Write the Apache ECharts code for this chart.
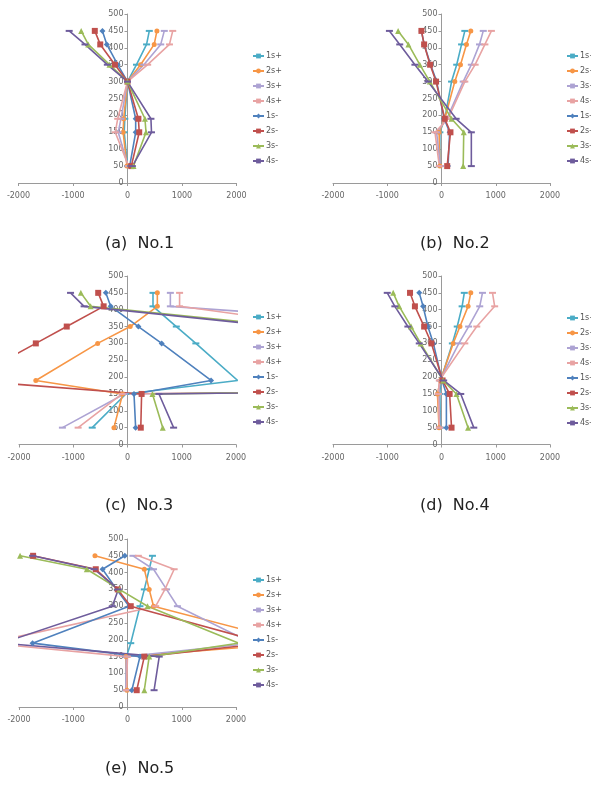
<!DOCTYPE html>
<html>
<head>
<meta charset="utf-8">
<script src="https://cdn.jsdelivr.net/npm/echarts@6/dist/echarts.min.js"></script>
<style>
html,body{margin:0;padding:0;background:#fff;}
#c{width:591px;height:785px;}
</style>
</head>
<body>
<div id="c"></div>
<script>
// Heights (y values) shared by every series
const heights = [450, 410, 350, 300, 190, 150, 50];
const seriesNames = ['1s+', '2s+', '3s+', '4s+', '1s-', '2s-', '3s-', '4s-'];
const xTicks = [-2000, -1000, 0, 1000, 2000];
const yTicks = [0, 50, 100, 150, 200, 250, 300, 350, 400, 450, 500];
const panelLabels = ['(a)  No.1', '(b)  No.2', '(c)  No.3', '(d)  No.4', '(e)  No.5'];

// No.1
const no1_1sp = [400, 350, 165, 0, -50, -60, 0];
const no1_2sp = [540, 490, 240, 0, -70, -80, -10];
const no1_3sp = [675, 610, 300, 0, -120, -170, 10];
const no1_4sp = [830, 770, 370, 0, -180, -225, 20];
const no1_1sm = [-460, -380, -180, 0, 150, 150, 40];
const no1_2sm = [-600, -500, -230, 0, 200, 215, 70];
const no1_3sm = [-850, -720, -330, 0, 320, 340, 110];
const no1_4sm = [-1070, -780, -370, 0, 430, 440, 90];

// No.2
const no2_1sp = [430, 370, 280, 185, 60, -30, -30];
const no2_2sp = [540, 460, 350, 245, 60, -45, -30];
const no2_3sp = [770, 700, 550, 400, 100, -90, -20];
const no2_4sp = [920, 800, 620, 430, 120, -120, -40];
const no2_1sm = [-370, -320, -200, -90, 50, 150, 120];
const no2_2sm = [-370, -320, -210, -100, 60, 165, 105];
const no2_3sm = [-800, -610, -400, -215, 185, 410, 400];
const no2_4sm = [-960, -770, -490, -250, 270, 550, 550];

// No.3
const no3_1sp = [470, 470, 900, 1260, 2030, -30, -650];
const no3_2sp = [550, 550, 50, -550, -1690, -90, -250];
const no3_3sp = [790, 790, 6000, 11880, 20000, -60, -1200];
const no3_4sp = [960, 960, 3700, 6160, 20000, -100, -910];
const no3_1sm = [-400, -310, 200, 630, 1540, 120, 150];
const no3_2sm = [-540, -440, -1120, -1690, -2940, 260, 245];
const no3_3sm = [-860, -680, 2975, 6000, 20000, 460, 650];
const no3_4sm = [-1050, -800, 2775, 5500, 20000, 580, 850];

// No.4
const no4_1sp = [420, 380, 290, 200, -15, -30, -20];
const no4_2sp = [540, 490, 340, 215, -20, -75, -45];
const no4_3sp = [755, 705, 500, 320, -30, -50, -30];
const no4_4sp = [940, 980, 650, 430, -40, -60, -40];
const no4_1sm = [-410, -340, -250, -150, 10, 90, 90];
const no4_2sm = [-580, -490, -320, -185, 20, 150, 185];
const no4_3sm = [-890, -780, -560, -385, 30, 275, 490];
const no4_4sm = [-1000, -860, -620, -410, 40, 355, 595];

// No.5
const no5_1sp = [460, 400, 310, 230, 60, -20, -30];
const no5_2sp = [-600, 310, 400, 480, 3090, -30, -10];
const no5_3sp = [100, 480, 720, 920, 2300, -20, -30];
const no5_4sp = [200, 860, 690, 520, -2560, 0, -20];
const no5_1sm = [-50, -460, -200, 30, -1750, 230, 80];
const no5_2sm = [-1740, -585, -180, 60, 2540, 310, 170];
const no5_3sm = [-1980, -750, -150, 370, 2050, 400, 310];
const no5_4sm = [-1750, -615, -170, -280, -2315, 585, 490];

const panels = [
  [no1_1sp, no1_2sp, no1_3sp, no1_4sp, no1_1sm, no1_2sm, no1_3sm, no1_4sm],
  [no2_1sp, no2_2sp, no2_3sp, no2_4sp, no2_1sm, no2_2sm, no2_3sm, no2_4sm],
  [no3_1sp, no3_2sp, no3_3sp, no3_4sp, no3_1sm, no3_2sm, no3_3sm, no3_4sm],
  [no4_1sp, no4_2sp, no4_3sp, no4_4sp, no4_1sm, no4_2sm, no4_3sm, no4_4sm],
  [no5_1sp, no5_2sp, no5_3sp, no5_4sp, no5_1sm, no5_2sm, no5_3sm, no5_4sm]
];

const colors = ['#4BACC6', '#F79646', '#ADA3D3', '#E8A3A3', '#4F81BD', '#C0504D', '#9BBB59', '#6E5C9C'];
const symbols = ['rect', 'circle', 'rect', 'rect', 'diamond', 'rect', 'triangle', 'rect'];
const symbolSizes = [[7, 2], 5, [7, 2], [7, 2], 6, 6, 6, [7, 2]];

// layout of the five plot areas
const grids = [
  {left: 18.5, top: 14, width: 218, height: 169},
  {left: 333, top: 14, width: 217, height: 169},
  {left: 19, top: 276, width: 217, height: 168.5},
  {left: 333, top: 276, width: 217, height: 168.5},
  {left: 19, top: 539, width: 217, height: 168}
];
const legendPos = [
  {left: 252, top: 52},
  {left: 566, top: 52},
  {left: 252, top: 313},
  {left: 566, top: 314},
  {left: 252, top: 576}
];
const labelPos = [
  {x: 105, y: 246}, {x: 420, y: 246},
  {x: 105, y: 508}, {x: 420, y: 508},
  {x: 105, y: 771}
];

const axisColor = '#9a9a9a';
const labelColor = '#666';
const plain = v => String(v);

const option = {
  animation: false,
  backgroundColor: '#fff',
  grid: grids,
  xAxis: grids.map((g, i) => ({
    type: 'value', gridIndex: i, min: xTicks[0], max: xTicks[xTicks.length - 1], interval: 1000,
    splitLine: {show: false},
    axisLine: {show: true, onZero: false, lineStyle: {color: axisColor, width: 1}},
    axisTick: {show: true, length: 3, lineStyle: {color: axisColor}},
    axisLabel: {fontSize: 8, color: labelColor, margin: 9, fontFamily: 'DejaVu Sans', formatter: plain}
  })),
  yAxis: grids.map((g, i) => ({
    type: 'value', gridIndex: i, min: yTicks[0], max: yTicks[yTicks.length - 1], interval: 50,
    position: 'left', offset: -g.width / 2,
    splitLine: {show: false},
    axisLine: {show: true, onZero: false, lineStyle: {color: axisColor, width: 1}},
    axisTick: {show: true, length: 3, lineStyle: {color: axisColor}},
    axisLabel: {fontSize: 8, color: labelColor, margin: 4, fontFamily: 'DejaVu Sans', formatter: plain}
  })),
  legend: legendPos.map(p => ({
    data: seriesNames, orient: 'vertical', left: p.left, top: p.top,
    itemWidth: 11, itemHeight: 6, itemGap: 7, padding: 0,
    textStyle: {fontSize: 8, color: '#555', padding: [0, 0, 0, -3], fontFamily: 'DejaVu Sans'}
  })),
  graphic: labelPos.map((p, i) => ({
    type: 'text', left: p.x, top: p.y - 10,
    style: {text: panelLabels[i], font: '16px "DejaVu Sans"', fill: '#222'}
  })),
  series: []
};

panels.forEach((vals, pi) => {
  vals.forEach((arr, si) => {
    option.series.push({
      type: 'line', name: seriesNames[si], xAxisIndex: pi, yAxisIndex: pi,
      data: arr.map((v, k) => [v, heights[k]]),
      color: colors[si],
      symbol: symbols[si], symbolSize: symbolSizes[si], showSymbol: true,
      lineStyle: {width: 1.6, color: colors[si]},
      itemStyle: {color: colors[si]},
      clip: true, silent: true
    });
  });
});

const chart = echarts.init(document.getElementById('c'), null, {renderer: 'canvas'});
chart.setOption(option);
</script>
</body>
</html>
